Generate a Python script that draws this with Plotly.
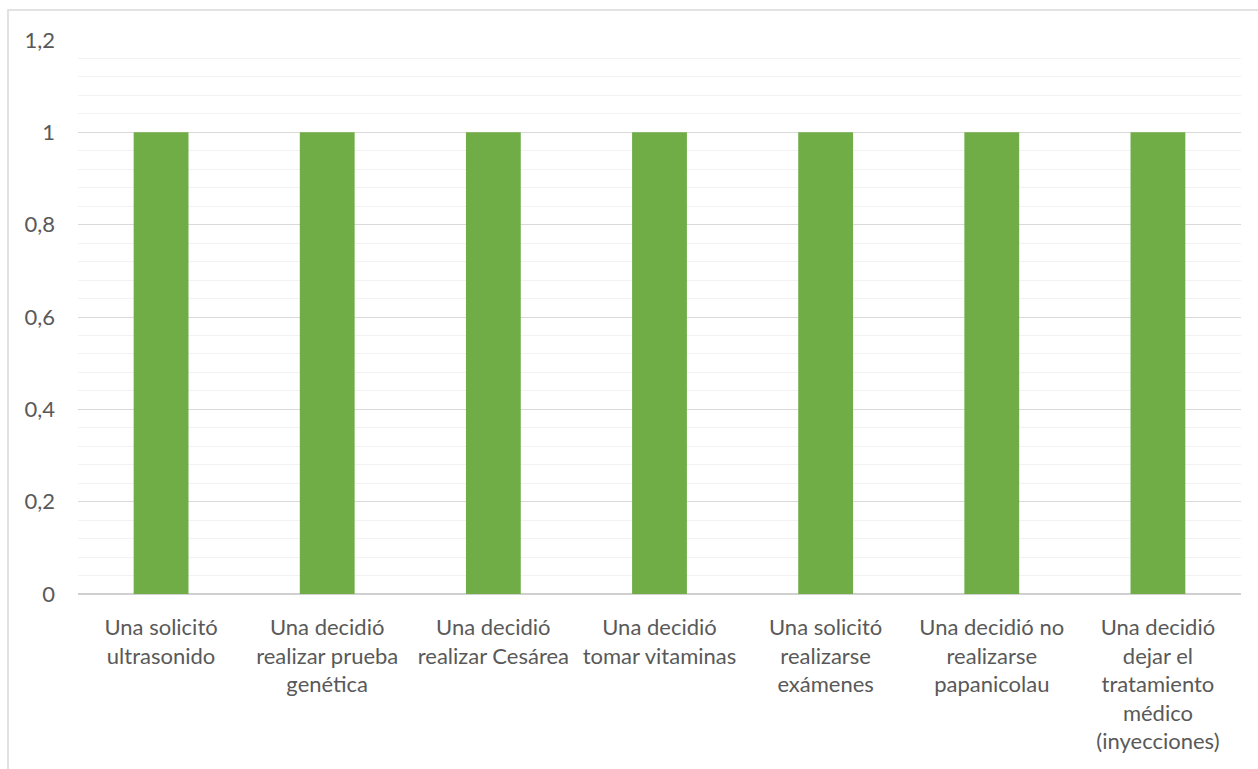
import plotly.graph_objects as go

categories = [
    "Una solicitó<br>ultrasonido",
    "Una decidió<br>realizar prueba<br>genética",
    "Una decidió<br>realizar Cesárea",
    "Una decidió<br>tomar vitaminas",
    "Una solicitó<br>realizarse<br>exámenes",
    "Una decidió no<br>realizarse<br>papanicolau",
    "Una decidió<br>dejar el<br>tratamiento<br>médico<br>(inyecciones)",
]
values = [1, 1, 1, 1, 1, 1, 1]
y_ticks = [0, 0.2, 0.4, 0.6, 0.8, 1.0, 1.2]

W, H = 1258, 769
m_left, m_right, m_top, m_bottom = 78, 17, 40, 175
plot_w = W - m_left - m_right
plot_h = H - m_top - m_bottom


def px_x(px):
    return (px - m_left) / plot_w


def px_y(py):
    return (H - m_bottom - py) / plot_h


fig = go.Figure(
    go.Bar(
        x=list(range(len(categories))),
        y=values,
        marker=dict(color="#70ad47", line=dict(width=0)),
        width=0.33,
        hoverinfo="skip",
    )
)

fig.update_layout(
    width=W,
    height=H,
    margin=dict(l=m_left, r=m_right, t=m_top, b=m_bottom, autoexpand=False),
    paper_bgcolor="white",
    plot_bgcolor="white",
    showlegend=False,
    font=dict(family="Lato, Open Sans, sans-serif", size=22, color="#595959"),
    xaxis=dict(
        range=[-0.5, len(categories) - 0.5],
        tickvals=list(range(len(categories))),
        ticktext=categories,
        showgrid=False,
        zeroline=False,
        showline=False,
        ticks="",
        ticklabelstandoff=18,
        tickfont=dict(size=22, color="#595959"),
    ),
    yaxis=dict(
        range=[0, 1.2],
        tickvals=y_ticks,
        ticktext=[("%g" % v).replace(".", ",") for v in y_ticks],
        showgrid=True,
        gridcolor="#d9d9d9",
        gridwidth=1,
        zeroline=True,
        zerolinecolor="#d0d0d0",
        zerolinewidth=1.5,
        showline=False,
        ticks="",
        ticklabelstandoff=22,
        tickfont=dict(size=22, color="#595959"),
        minor=dict(dtick=0.04, showgrid=True, gridcolor="#f2f2f2", gridwidth=1),
    ),
    shapes=[
        dict(
            type="rect",
            xref="paper",
            yref="paper",
            x0=px_x(8),
            x1=px_x(W + 6),
            y0=px_y(H + 6),
            y1=px_y(10),
            line=dict(color="#d9d9d9", width=1.5),
            fillcolor="rgba(0,0,0,0)",
            layer="below",
        )
    ],
)

fig.write_html("out.html")
